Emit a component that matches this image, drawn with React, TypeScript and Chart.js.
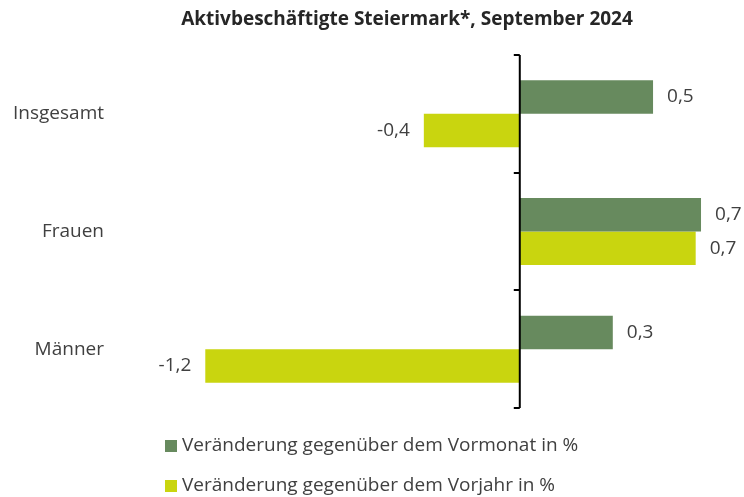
import React, { useEffect, useRef } from "react";
import { Chart, registerables } from "chart.js";

Chart.register(...registerables);

const categories = ["Insgesamt", "Frauen", "Männer"];
const vormonat = [0.5, 0.68, 0.349];
const vorjahr = [-0.36, 0.66, -1.18];
const seriesLabels = [
  "Veränderung gegenüber dem Vormonat in %",
  "Veränderung gegenüber dem Vorjahr in %",
];
const titleText = "Aktivbeschäftigte Steiermark*, September 2024";

const GREEN = "#678a5e";
const YELLOW = "#c9d50f";
const TEXT = "#404040";
const FONT = "'Open Sans', Lato, sans-serif";

const fmt = (v: number) => v.toFixed(1).replace(".", ",");

const decorPlugin = {
  id: "decor",
  afterDatasetsDraw(chart: any) {
    const { ctx, chartArea, scales } = chart;
    const x = scales.x;
    const y = scales.y;
    ctx.save();
    // title
    ctx.fillStyle = "#262626";
    ctx.font = `bold 19px ${FONT}`;
    ctx.textAlign = "center";
    ctx.textBaseline = "middle";
    ctx.fillText(titleText, 407, 20);

    // zero axis line
    const x0 = x.getPixelForValue(0);
    ctx.strokeStyle = "#000";
    ctx.lineWidth = 2;
    ctx.beginPath();
    ctx.moveTo(x0, chartArea.top);
    ctx.lineTo(x0, chartArea.bottom);
    ctx.stroke();
    // tick marks at category boundaries
    for (let i = 0; i <= categories.length; i++) {
      const py = Math.round(y.getPixelForValue(i - 0.5));
      ctx.beginPath();
      ctx.moveTo(x0 - 6, py);
      ctx.lineTo(x0, py);
      ctx.stroke();
    }

    // data labels
    ctx.font = `19px ${FONT}`;
    ctx.fillStyle = TEXT;
    chart.data.datasets.forEach((ds: any, di: number) => {
      const meta = chart.getDatasetMeta(di);
      meta.data.forEach((bar: any, i: number) => {
        const v = ds.data[i];
        const px = x.getPixelForValue(v);
        if (v >= 0) {
          ctx.textAlign = "left";
          ctx.fillText(fmt(v), px + 14, bar.y);
        } else {
          ctx.textAlign = "right";
          ctx.fillText(fmt(v), px - 14, bar.y);
        }
      });
    });

    // legend
    ctx.textAlign = "left";
    chart.data.datasets.forEach((ds: any, di: number) => {
      const cy = 446 + di * 40;
      ctx.fillStyle = ds.backgroundColor;
      ctx.fillRect(165, cy - 6, 12, 12);
      ctx.fillStyle = TEXT;
      ctx.fillText(ds.label, 182, cy);
    });
    ctx.restore();
  },
};

export default function App() {
  const ref = useRef<HTMLCanvasElement>(null);
  useEffect(() => {
    if (!ref.current) return;
    const chart = new Chart(ref.current, {
      type: "bar",
      data: {
        labels: categories,
        datasets: [
          { label: seriesLabels[0], data: vormonat, backgroundColor: GREEN },
          { label: seriesLabels[1], data: vorjahr, backgroundColor: YELLOW },
        ],
      },
      options: {
        indexAxis: "y",
        animation: false,
        responsive: false,
        maintainAspectRatio: false,
        layout: { padding: { top: 55, bottom: 89, right: 11, left: 0 } },
        plugins: {
          legend: { display: false },
          title: { display: false },
          tooltip: { enabled: false },
        },
        datasets: {
          bar: { categoryPercentage: 0.57, barPercentage: 1 },
        },
        scales: {
          x: {
            min: -1.5,
            max: 0.8,
            display: false,
          },
          y: {
            grid: { display: false },
            border: { display: false },
            ticks: {
              color: TEXT,
              font: { family: FONT, size: 19 },
              padding: 8,
            },
            afterFit: (scale: any) => {
              scale.width = 120;
            },
          },
        },
      },
      plugins: [decorPlugin],
    });
    return () => chart.destroy();
  }, []);
  return (
    <div style={{ position: "fixed", left: 0, top: 0, width: 744, height: 497, background: "#fff" }}>
      <canvas ref={ref} width={744} height={497} style={{ width: 744, height: 497 }} />
    </div>
  );
}
